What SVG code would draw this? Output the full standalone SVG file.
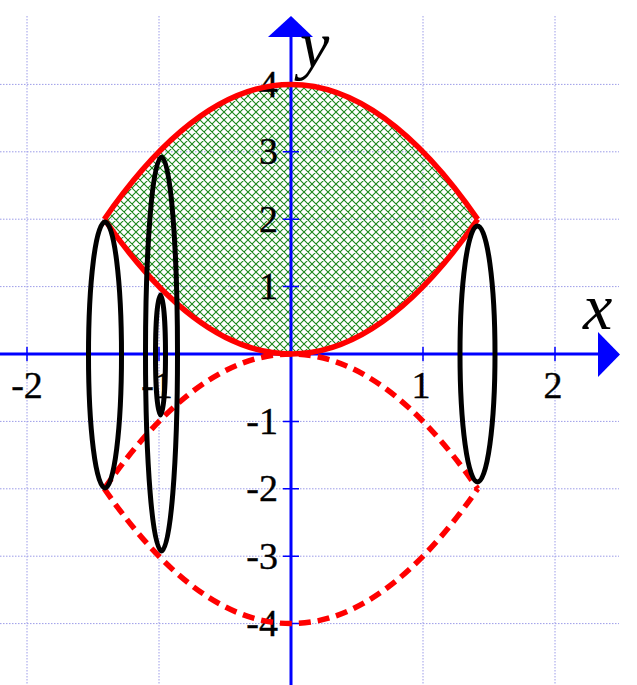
<svg xmlns="http://www.w3.org/2000/svg" width="637" height="685" viewBox="0 0 637 685">
<defs>
<pattern id="hatch" patternUnits="userSpaceOnUse" width="8" height="8">
<path d="M0,0 L8,8 M8,0 L0,8 M-1,7 L1,9 M7,-1 L9,1 M-1,1 L1,-1 M7,9 L9,7" stroke="#1a861a" stroke-width="1.1" fill="none"/>
</pattern>
<style>
.grid{stroke:#9c9ce8;stroke-width:1;stroke-dasharray:1.5 1.5;fill:none}
.axis{stroke:#0000ff;stroke-width:3;fill:none}
.tick{stroke:#0000ff;stroke-width:1.5}
.arrow{fill:#0000ff}
.red{stroke:#ff0000;stroke-width:5.5;fill:none}
.dash{stroke:#ff0000;stroke-width:5.5;fill:none;stroke-dasharray:12 7}
.ell{stroke:#000;stroke-width:5;fill:none}
.lbl{font-family:"Liberation Serif","Times New Roman",serif;font-size:38px;fill:#000;stroke:#000;stroke-width:0.4}
.var{font-family:"Liberation Serif","Times New Roman",serif;font-size:66px;font-style:italic;fill:#000}
</style>
</defs>
<rect width="637" height="685" fill="#fff"/>
<g id="grid">
<path class="grid" d="M27,16V685 M159,16V685 M423,16V685 M555,16V685 M0,84.4H619 M0,151.8H619 M0,219.2H619 M0,286.6H619 M0,421.4H619 M0,488.8H619 M0,556.2H619 M0,623.6H619"/>
</g>
<g id="region">
<path d="M104.3,219.2 Q291,-50.4 477.7,219.2 Q291,488.8 104.3,219.2 Z" fill="url(#hatch)"/>
</g>
<g id="axes">
<line class="axis" x1="0" y1="354" x2="600" y2="354"/>
<polygon class="arrow" points="598,332 620,354.5 598,377"/>
<line class="axis" x1="291" y1="685" x2="291" y2="35"/>
<polygon class="arrow" points="268,37 291,16 313,37"/>
<path class="tick" d="M27,347V361 M159,347V361 M423,347V361 M555,347V361 M283,84.4H299 M283,151.8H299 M283,219.2H299 M283,286.6H299 M283,421.4H299 M283,488.8H299 M283,556.2H299 M283,623.6H299"/>
</g>
<g id="labels">
<text class="lbl" x="278" y="97" text-anchor="end">4</text>
<text class="lbl" x="278" y="164.4" text-anchor="end">3</text>
<text class="lbl" x="278" y="231.8" text-anchor="end">2</text>
<text class="lbl" x="278" y="299.2" text-anchor="end">1</text>
<text class="lbl" x="278" y="434" text-anchor="end">-1</text>
<text class="lbl" x="278" y="501.4" text-anchor="end">-2</text>
<text class="lbl" x="278" y="568.8" text-anchor="end">-3</text>
<text class="lbl" x="278" y="636.2" text-anchor="end">-4</text>
<text class="lbl" x="27" y="398" text-anchor="middle">-2</text>
<text class="lbl" x="157" y="398" text-anchor="middle">-1</text>
<text class="lbl" x="421" y="398" text-anchor="middle">1</text>
<text class="lbl" x="553" y="398" text-anchor="middle">2</text>
<text class="var" x="300" y="67">y</text>
<text class="var" x="583" y="329">x</text>
</g>
<g id="curves">
<path class="red" d="M104.3,219.2 Q291,-50.4 477.7,219.2"/>
<path class="red" d="M104.3,219.2 Q291,488.8 477.7,219.2"/>
<path class="dash" d="M104.3,488.8 Q291,219.2 477.7,488.8"/>
<path class="dash" d="M104.3,488.8 Q291,758.4 477.7,488.8"/>
</g>
<g id="ellipses">
<ellipse id="ellipse-left" class="ell" cx="105" cy="355" rx="16.5" ry="133"/>
<ellipse id="ellipse-tall" class="ell" cx="161.5" cy="354" rx="16" ry="197"/>
<ellipse id="ellipse-small" class="ell" cx="160.5" cy="355" rx="5" ry="60"/>
<ellipse id="ellipse-right" class="ell" cx="477.5" cy="354" rx="17.5" ry="128"/>
</g>
</svg>
